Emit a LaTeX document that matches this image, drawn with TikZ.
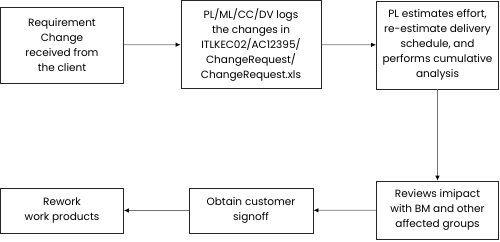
\documentclass[tikz,border=0pt]{standalone}
\usepackage{fontspec}
\setmainfont{Poppins}
\usetikzlibrary{arrows.meta}
\tikzset{
    step box/.style={rectangle,draw=black!85,line width=0.8pt,align=center,inner sep=0,
        font=\fontsize{10.5}{15}\selectfont},
    flow/.style={draw=black!55,line width=0.8pt,-{Latex[black,length=5pt,width=4.5pt]}}
}

\begin{document}
\begin{tikzpicture}[x=1pt,y=1pt]
    \useasboundingbox (0,0) rectangle (500,-241);
    % top row
    \node[step box,minimum width=123pt,minimum height=76pt] (req) at (62,-45)
        {Requirement\\Change\\received from\\the client};
    \node[step box,minimum width=140pt,minimum height=88pt] (logs) at (251,-44.5)
        {PL/ML/CC/DV logs\\the changes in\\ITLKEC02/AC12395/\\ChangeRequest/\\ChangeRequest.xls};
    \node[step box,minimum width=122pt,minimum height=88pt] (est) at (437.5,-45)
        {PL estimates effort,\\re-estimate delivery\\schedule, and\\performs cumulative\\analysis};
    % bottom row
    \node[step box,minimum width=122pt,minimum height=58pt] (rev) at (437.5,-210)
        {Reviews imipact\\with BM and other\\affected groups};
    \node[step box,minimum width=124pt,minimum height=45pt] (sign) at (251,-210.5)
        {Obtain customer\\signoff};
    \node[step box,minimum width=123pt,minimum height=45pt] (rework) at (62,-210.5)
        {Rework\\work products};
    \draw[flow] (req) -- (logs);
    \draw[flow] (logs) -- (est);
    \draw[flow] (est) -- (rev);
    \draw[flow] (rev) -- (sign);
    \draw[flow] (sign) -- (rework);
\end{tikzpicture}
\end{document}
